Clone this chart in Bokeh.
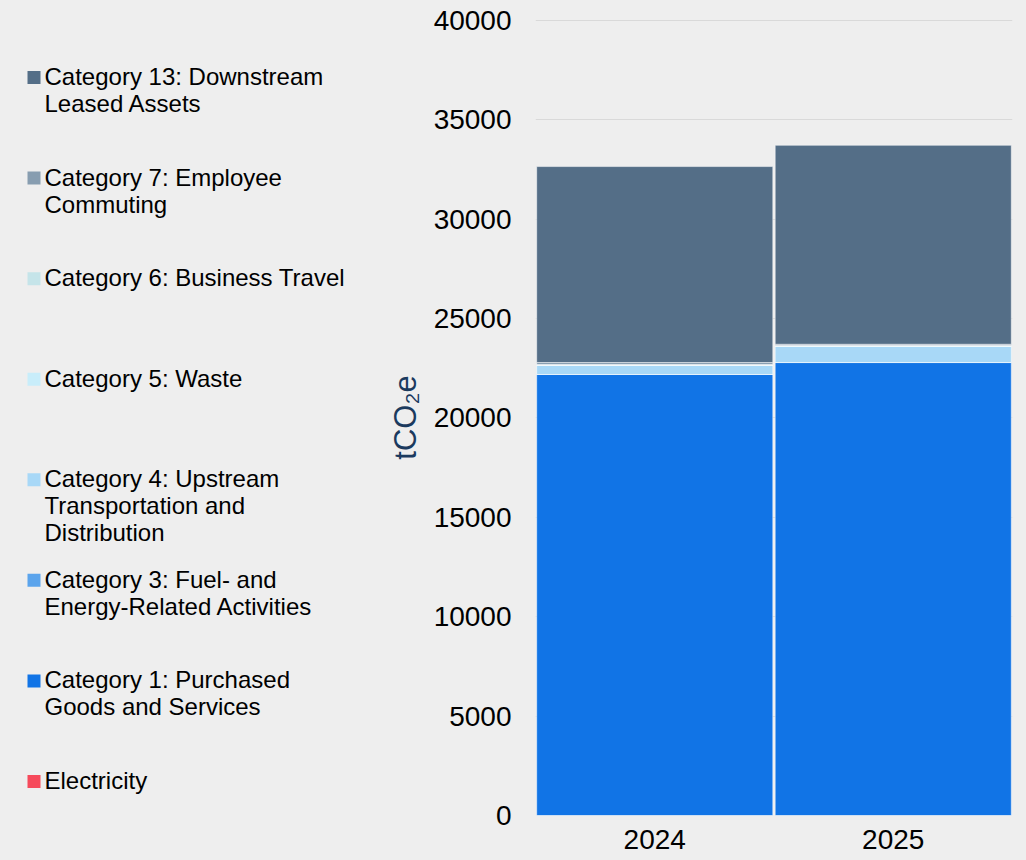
from bokeh.plotting import figure
from bokeh.layouts import row
from bokeh.models import ColumnDataSource, FactorRange, Range1d, FixedTicker
from bokeh.core.properties import value
from bokeh.embed import file_html
from bokeh.resources import INLINE

# ---- data ----
years = ["2024", "2025"]
electricity = [0, 0]
cat1 = [22190, 22790]
cat3 = [0, 0]
cat4 = [450, 810]
cat5 = [30, 30]
cat6 = [20, 20]
cat7 = [100, 60]
cat13 = [9860, 10010]

series_keys = ["electricity", "cat1", "cat3", "cat4", "cat5", "cat6", "cat7", "cat13"]
series_names = [
    "Electricity",
    "Category 1: Purchased\nGoods and Services",
    "Category 3: Fuel- and\nEnergy-Related Activities",
    "Category 4: Upstream\nTransportation and\nDistribution",
    "Category 5: Waste",
    "Category 6: Business Travel",
    "Category 7: Employee\nCommuting",
    "Category 13: Downstream\nLeased Assets",
]
series_colors = ["#F64A5B", "#1174E6", "#5BA4EC", "#A8D8F7", "#C8EDFA", "#C5E4E9", "#879DB0", "#546E87"]
y_ticks = [0, 5000, 10000, 15000, 20000, 25000, 30000, 35000, 40000]

source = ColumnDataSource(dict(years=years, electricity=electricity, cat1=cat1, cat3=cat3,
                               cat4=cat4, cat5=cat5, cat6=cat6, cat7=cat7, cat13=cat13))

BG = "#EEEEEE"
H = 860
LW = 380          # width of the legend panel
W = 1026 - LW     # width of the chart
TOP, BOTTOM = 19, 45

# ---------------- chart ----------------
# a sliver of headroom above 40000 keeps the top grid line inside the frame
p = figure(width=W, height=H, x_range=FactorRange(*years, range_padding=0),
           y_range=Range1d(0, 40050), output_backend="svg", toolbar_location=None,
           min_border_left=535 - LW, min_border_right=14, min_border_top=TOP,
           min_border_bottom=BOTTOM)
p.background_fill_color = BG
p.border_fill_color = BG
p.outline_line_color = None

renderers = p.vbar_stack(series_keys, x="years", width=0.99, source=source,
                         fill_color=series_colors, line_color="#FFFFFF", line_alpha=0.5,
                         line_width=1)

p.yaxis.ticker = FixedTicker(ticks=y_ticks)
for ax in (p.xaxis[0], p.yaxis[0]):
    ax.axis_line_color = None
    ax.major_tick_line_color = None
    ax.minor_tick_line_color = None
    ax.major_tick_out = 0
    ax.major_tick_in = 0
    ax.major_label_text_font = "Liberation Sans"
    ax.major_label_text_font_size = "28px"
    ax.major_label_text_color = "#000000"
p.yaxis.major_label_standoff = 24
p.xaxis.major_label_standoff = 14
p.yaxis.axis_label = "tCO₂e"
p.yaxis.axis_label_text_font = "Liberation Sans"
p.yaxis.axis_label_text_font_size = "31px"
p.yaxis.axis_label_text_font_style = "normal"
p.yaxis.axis_label_text_color = "#1B3A5E"
p.yaxis.axis_label_standoff = 8

p.xgrid.grid_line_color = None
p.ygrid.grid_line_color = "#D9D9D9"
p.ygrid.grid_line_width = 1

# ---------------- legend panel (key drawn in screen-like units) ----------------
frame_h = H - TOP - BOTTOM
lp = figure(width=LW, height=H, x_range=Range1d(0, LW), y_range=Range1d(frame_h, 0),
            output_backend="svg", toolbar_location=None,
            x_axis_location=None, y_axis_location=None,
            min_border_left=0, min_border_right=0, min_border_top=TOP, min_border_bottom=BOTTOM)
lp.background_fill_color = BG
lp.border_fill_color = BG
lp.outline_line_color = None
lp.grid.visible = False

n_items = len(series_names)
first_key = 77 - TOP           # centre of the first key row, from the top of the frame
pitch = (781 - 77) / (n_items - 1)
key_y = [first_key + i * pitch for i in range(n_items)]
legend_src = ColumnDataSource(dict(
    name=series_names[::-1],
    color=series_colors[::-1],
    key_y=key_y,
    text_y=[y - 14.5 for y in key_y],
))
lp.scatter(x=33.5, y="key_y", marker="square", size=13, fill_color="color",
           line_color=None, source=legend_src)
lp.text(x=44, y="text_y", text="name", source=legend_src, text_baseline="top",
        text_align="left", text_font=value("Liberation Sans"), text_font_size="24px",
        text_line_height=1.0, text_color="#000000")

layout = row(lp, p, spacing=0)
html = file_html(layout, INLINE).replace(
    "</head>", "<style>html, body { background-color: #EEEEEE; }</style></head>", 1)
open("out.html", "w").write(html)
